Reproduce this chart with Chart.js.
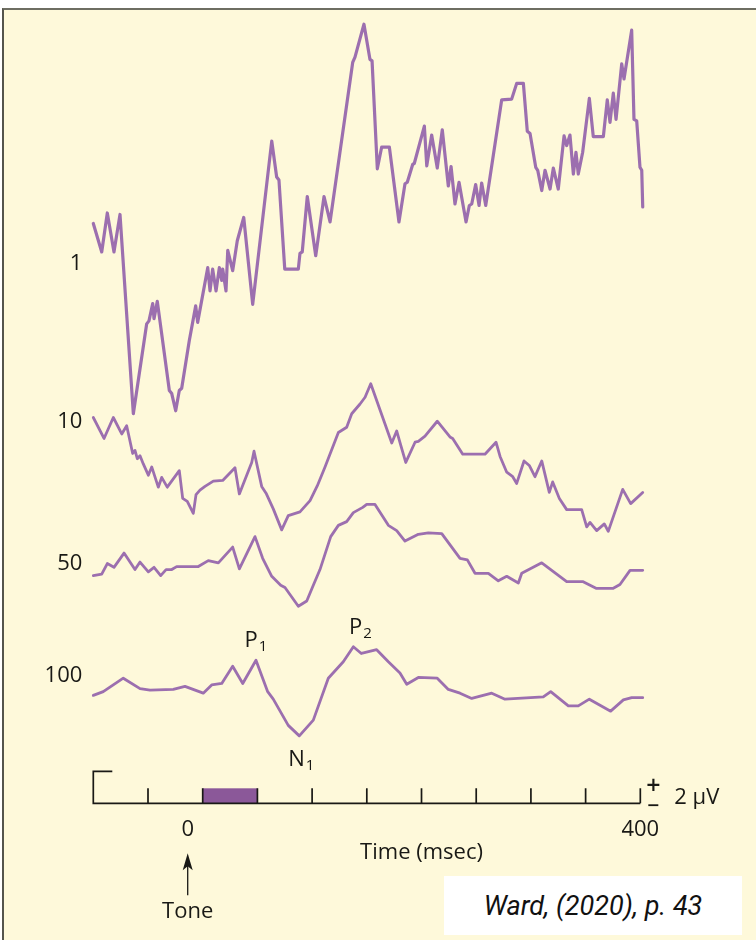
<!DOCTYPE html>
<html>
<head>
<meta charset="utf-8">
<title>Averaged auditory ERP</title>
<script src="https://cdn.jsdelivr.net/npm/chart.js@4.4.1/dist/chart.umd.min.js"></script>
<style>
  html, body { margin: 0; padding: 0; background: #ffffff; }
  body { width: 756px; height: 940px; position: relative; overflow: hidden; }
  #panel {
    position: absolute; left: 2px; top: 8px; width: 754px; height: 932px;
    background: #fef9da; border-top: 2px solid #6e6e62; border-left: 2px solid #55554c;
    box-sizing: border-box;
  }
  #plot { position: absolute; left: 0; top: 0; }
  #cite {
    position: absolute; left: 444px; top: 876px; width: 298px; height: 59px;
    background: #ffffff; color: #111111;
    font: italic 27px Roboto, "Liberation Sans", sans-serif;
    display: flex; align-items: center; justify-content: center;
  }
</style>
</head>
<body>
<div id="panel"></div>
<canvas id="plot" width="756" height="940"></canvas>
<div id="cite">Ward, (2020), p. 43</div>
<script>
// Time window of each sweep (ms after tone onset) and the span shown on the scale
const timeRange = [-100, 400];
const scaleRange = [-100, 403];
// Tone duration, drawn as the filled block on the time axis (ms)
const stimulus = [0, 50];
// Calibration height of the time-axis ticks (µV)
const calibration = 2;

// Number of trials in each average and the vertical offset of each row (µV)
const trialCounts = ['1', '10', '50', '100'];
const rowOffsets = [72, 51, 32, 17];

// Averaged waveforms: [time (ms), amplitude (µV) relative to the row baseline]
const avg1 = [
  [-100, 5.4], [-92.3, 1.6], [-87.2, 6.8], [-81.1, 1.6], [-75.6, 6.6], [-63.4, -20.0],
  [-51.2, -8.0], [-49.1, -7.6], [-45.7, -5.3], [-44.5, -7.3], [-41.5, -5.0], [-30.5, -16.9],
  [-28.3, -17.3], [-24.7, -19.6], [-21.4, -16.9], [-19.2, -16.6], [-12.2, -10.2], [-6.4, -5.6],
  [-4.6, -7.8], [4.6, -0.5], [6.7, -3.6], [9.1, -0.7], [12.2, -3.6], [15.2, -0.5],
  [17.4, -2.2], [18.3, -0.7], [21.3, -3.6], [22.9, 1.8], [27.4, -0.9], [31.6, 3.1],
  [37.5, 6.2], [45.7, -5.4], [63.1, 16.4], [67.6, 11.6], [69.7, 11.2], [75, -0.7],
  [87.4, -0.7], [88.9, 1.4], [91, 1.6], [95.6, 9.0], [103.3, 1.1], [110.9, 9.0],
  [116.4, 5.6], [137.1, 26.9], [139.2, 27.6], [147.4, 32.0], [152.9, 27.3], [154.8, 27.1],
  [159.6, 12.7], [163.6, 15.6], [170.6, 15.6], [179.4, 5.6], [184.9, 10.7], [187, 10.9],
  [192, 13.3], [193.4, 13.4], [202.6, 18.4], [204.8, 13.1], [209.3, 17.2], [214.4, 12.8],
  [219, 17.9], [224.5, 10.4], [227, 13.0], [230.6, 8.0], [234.3, 10.9], [240.7, 5.6],
  [243.7, 7.8], [245.9, 8.0], [249.5, 10.6], [252.6, 7.8], [255, 10.8], [258.7, 7.8],
  [273.3, 21.9], [282.4, 22.0], [287, 24.1], [293.1, 24.1], [296.7, 17.7], [299.2, 17.4],
  [304.4, 12.9], [306.2, 12.5], [309.9, 9.8], [312.9, 12.5], [317.5, 10.0], [320.5, 12.8],
  [325, 10.0], [330.3, 17.1], [332.7, 15.8], [335.7, 17.2], [338.8, 12.0], [341.2, 14.9],
  [343.3, 12.0], [347.3, 14.9], [353.4, 22.1], [357, 17.0], [366.2, 17.0], [369.8, 21.9],
  [372.3, 18.9], [375.3, 22.8], [377.8, 19.3], [383, 26.7], [385.1, 24.7], [392.1, 31.2],
  [394.2, 19.3], [396.7, 19.1], [399.7, 12.9], [401.3, 12.5], [402.2, 7.6]
];

const avg10 = [
  [-100, 0.5], [-90.2, -2.3], [-81.7, 0.5], [-74, -1.7], [-69.5, -0.6], [-64, -4.3],
  [-61.9, -3.9], [-59.8, -5.0], [-57.3, -4.6], [-54.3, -5.7], [-49.7, -7.2], [-46.6, -6.1],
  [-40.6, -8.8], [-37.5, -7.5], [-32.4, -8.8], [-21.4, -6.6], [-18.3, -10.3], [-14.1, -10.7],
  [-8.6, -12.3], [-6.1, -9.8], [-2.5, -9.2], [2.1, -8.7], [9.7, -8.0], [18.3, -7.9],
  [29.5, -6.2], [33.5, -9.7], [44.8, -5.5], [46.9, -4.0], [53.9, -8.7], [57.9, -9.6],
  [64.5, -11.7], [72.2, -14.5], [78.2, -12.6], [88.9, -12.1], [98.1, -10.6], [104.8, -8.6],
  [111.8, -6.1], [124, -1.5], [131.6, -0.8], [136.2, 1.0], [143.8, 2.3], [148.4, 3.2],
  [153.6, 5.0], [172.8, -2.9], [177.3, -1.3], [181, -3.2], [185.6, -5.5], [194.1, -2.8],
  [197.1, -2.7], [203.2, -2.0], [214.4, 0.0], [226, -2.1], [228.5, -2.3], [237.7, -4.4],
  [258, -4.4], [268.1, -2.8], [271.8, -4.7], [277.9, -6.8], [283.4, -7.4], [287, -8.3],
  [293.7, -5.3], [298.5, -5.9], [303.7, -7.4], [309.9, -5.3], [316.8, -9.5], [319.9, -8.1],
  [326, -10.3], [332.7, -11.8], [346.4, -11.8], [351, -14.1], [354, -13.5], [360.1, -14.6],
  [367.1, -13.7], [370.7, -14.7], [383.9, -9.1], [391.2, -11.0], [402.2, -9.5]
];

const avg50 = [
  [-100, -1.6], [-92.3, -1.4], [-87.2, 0.0], [-81.1, -0.5], [-71.9, 1.4], [-61.9, -0.8],
  [-57.3, 0.2], [-49.7, -1.1], [-44.5, -0.5], [-38.4, -1.6], [-33.5, -0.8], [-28.3, -0.8],
  [-23.8, -0.4], [-4, -0.4], [5.1, 0.4], [14.3, 0.1], [27.4, 2.2], [33.5, -0.7],
  [47.8, 3.6], [54.8, 0.7], [63.1, -1.7], [71.3, -2.9], [75.2, -3.2], [87.4, -5.7],
  [95.1, -5.0], [101.1, -2.9], [107.2, -0.8], [117, 3.6], [124, 5.1], [131.6, 5.6],
  [137.7, 6.8], [146.3, 7.5], [149.9, 7.9], [157.5, 7.9], [169.7, 5.1], [177.3, 4.4],
  [184.9, 3.0], [197.1, 3.9], [206.2, 4.1], [218.5, 4.0], [235.2, 0.7], [241.9, 0.5],
  [248.9, -1.3], [261.1, -1.3], [270.2, -2.3], [277.9, -1.7], [288.5, -2.6], [291.6, -1.3],
  [309.9, 0.1], [332.7, -2.4], [347.3, -2.4], [359.5, -3.3], [375.3, -3.3], [381.4, -2.8],
  [390.6, -0.9], [402.2, -0.9]
];

const avg100 = [
  [-100, -2.6], [-90.9, -2.1], [-72.6, -0.3], [-57.3, -1.7], [-48.2, -1.9], [-26.9, -1.8],
  [-16.2, -1.4], [0.5, -2.3], [8.2, -1.2], [17.4, -1.0], [27.4, 1.3], [36.6, -1.0],
  [48.7, 2.1], [59.4, -2.1], [64.5, -3.1], [78.2, -6.6], [88.3, -8.0], [101.1, -5.9],
  [114.8, -0.3], [128.5, 1.9], [137.7, 3.9], [145, 3.0], [159, 3.5], [169.7, 1.9],
  [180.3, 0.4], [186.5, -1.1], [197.1, -0.2], [214.4, -0.3], [224.5, -1.8], [235.2, -2.3],
  [245.9, -3.0], [264.2, -2.3], [276.3, -3.1], [311.3, -2.8], [318.1, -2.1], [334.2, -4.0],
  [343.3, -4.0], [353.4, -3.1], [372.9, -4.7], [384.5, -3.2], [392.1, -2.9], [402.2, -2.9]
];

const waveforms = [avg1, avg10, avg50, avg100];

// Named ERP components on the 100-trial average: label, subscript, latency (ms)
const components = [
  { name: 'P', sub: '1', latency: 48.7, side: 'above', dx: 0 },
  { name: 'N', sub: '1', latency: 88.3, side: 'below', dx: 2 },
  { name: 'P', sub: '2', latency: 137.7, side: 'above', dx: 7 }
];

const traceColor = '#9c6faf';
const barColor = '#8b5899';
const ink = '#191915';
const textFont = '"Open Sans", "Noto Sans", sans-serif';

const datasets = waveforms.map((wave, i) => ({
  label: trialCounts[i] + (i === 0 ? ' trial' : ' trials'),
  data: wave.map(([t, v]) => ({ x: t, y: v + rowOffsets[i] })),
  borderColor: traceColor,
  borderWidth: i === 0 ? 3.2 : 2.8,
  borderJoinStyle: 'round',
  borderCapStyle: 'round',
  pointRadius: 0,
  tension: 0,
  fill: false,
  clip: false
}));

// Time axis with calibration ticks, stimulus block and annotations
const erpAxis = {
  id: 'erpAxis',
  afterDatasetsDraw(chart) {
    const { ctx } = chart;
    const xs = chart.scales.x, ys = chart.scales.y;
    const base = ys.getPixelForValue(0);
    const tickTop = ys.getPixelForValue(calibration);
    const xStart = xs.getPixelForValue(timeRange[0]);
    const xEnd = xs.getPixelForValue(timeRange[1]);
    ctx.save();

    const s0 = xs.getPixelForValue(stimulus[0]);
    const s1 = xs.getPixelForValue(stimulus[1]);
    ctx.fillStyle = barColor;
    ctx.fillRect(s0, tickTop, s1 - s0, base - tickTop);

    ctx.strokeStyle = ink;
    ctx.lineWidth = 1.7;
    ctx.lineCap = 'butt';
    ctx.beginPath();
    ctx.moveTo(xStart + 19, base - 32);
    ctx.lineTo(xStart, base - 32);
    ctx.lineTo(xStart, base);
    ctx.lineTo(xEnd, base);
    for (let t = timeRange[0] + 50; t <= timeRange[1]; t += 50) {
      const px = xs.getPixelForValue(t);
      ctx.moveTo(px, base);
      ctx.lineTo(px, tickTop);
    }
    ctx.stroke();

    ctx.fillStyle = ink;
    ctx.textAlign = 'center';
    ctx.textBaseline = 'middle';
    ctx.font = '22px ' + textFont;
    const zeroX = xs.getPixelForValue(0) - 15;
    ctx.fillText('0', zeroX, base + 26);
    ctx.fillText('400', xEnd, base + 26);
    ctx.fillText('Time (msec)', xs.getPixelForValue(200), base + 49);
    ctx.fillText('Tone', zeroX, base + 108);

    // tone onset arrow
    ctx.beginPath();
    ctx.lineWidth = 1.3;
    ctx.moveTo(zeroX, base + 92);
    ctx.lineTo(zeroX, base + 62);
    ctx.stroke();
    ctx.beginPath();
    ctx.moveTo(zeroX, base + 50);
    ctx.lineTo(zeroX - 5, base + 67);
    ctx.lineTo(zeroX, base + 63);
    ctx.lineTo(zeroX + 5, base + 67);
    ctx.closePath();
    ctx.fill();

    // polarity signs and calibration value
    ctx.font = '600 25px ' + textFont;
    ctx.fillText('+', xEnd + 13, base - 16);
    ctx.fillRect(xEnd + 8, base + 1, 10, 1.8);
    ctx.textAlign = 'left';
    ctx.font = '22px ' + textFont;
    ctx.fillText('2 \u03bcV', xEnd + 34, base - 6);

    // component labels on the 100-trial average
    const row = waveforms.length - 1;
    components.forEach(c => {
      const pt = waveforms[row].find(p => p[0] === c.latency);
      const px = xs.getPixelForValue(pt[0]) + c.dx;
      const py = ys.getPixelForValue(pt[1] + rowOffsets[row]);
      ctx.font = '22px ' + textFont;
      const wMain = ctx.measureText(c.name).width;
      ctx.font = '15px ' + textFont;
      const wSub = ctx.measureText(c.sub).width;
      const left = px - (wMain + 1 + wSub) / 2;
      const baseline = c.side === 'above' ? py - 13 : py + 30;
      ctx.textAlign = 'left';
      ctx.textBaseline = 'alphabetic';
      ctx.font = '22px ' + textFont;
      ctx.fillText(c.name, left, baseline);
      ctx.font = '15px ' + textFont;
      ctx.fillText(c.sub, left + wMain + 1, baseline + 4);
    });
    ctx.restore();
  }
};

new Chart(document.getElementById('plot'), {
  type: 'line',
  data: { datasets },
  options: {
    responsive: false,
    animation: false,
    events: [],
    layout: { padding: { left: 0, right: 112.4, top: 23.3, bottom: 136.7 } },
    plugins: { legend: { display: false }, tooltip: { enabled: false } },
    scales: {
      x: {
        type: 'linear',
        min: scaleRange[0],
        max: scaleRange[1],
        display: false
      },
      y: {
        type: 'linear',
        min: 0,
        max: 104,
        grid: { display: false, drawTicks: false },
        border: { display: false },
        afterFit(scale) { scale.width = 93.3; },
        afterBuildTicks(scale) { scale.ticks = rowOffsets.map(v => ({ value: v })); },
        ticks: {
          padding: 11,
          color: ink,
          font: { family: textFont, size: 22 },
          callback: (value) => trialCounts[rowOffsets.indexOf(value)]
        }
      }
    }
  },
  plugins: [erpAxis]
});
</script>
</body>
</html>
